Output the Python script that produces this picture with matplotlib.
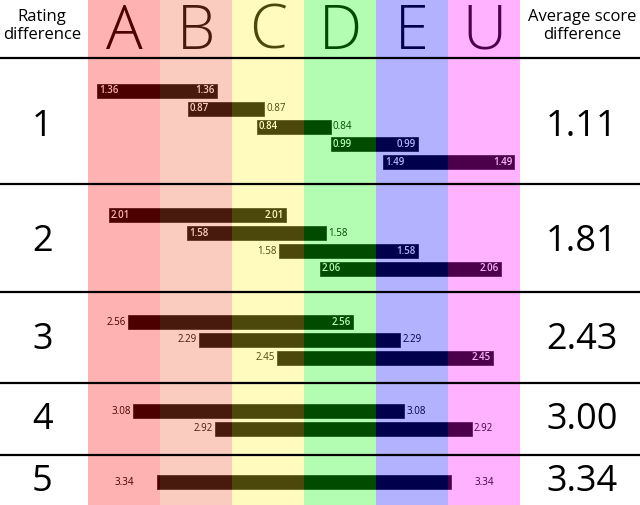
import matplotlib
matplotlib.use("Agg")
import matplotlib.pyplot as plt
from matplotlib.patches import Rectangle

plt.rcParams['font.family'] = ['Open Sans', 'DejaVu Sans']

# data
grades = ['A', 'B', 'C', 'D', 'E', 'U']
rating_diff = [1, 2, 3, 4, 5]
avg_score_diff = ['1.11', '1.81', '2.43', '3.00', '3.34']
# score difference of each grade pair, per rating difference
pair_scores = [
    [1.36, 0.87, 0.84, 0.99, 1.49],
    [2.01, 1.58, 1.58, 2.06],
    [2.56, 2.29, 2.45],
    [3.08, 2.92],
    [3.34],
]
# where each bar starts on the score axis
bar_starts = [
    [0.106, 1.133, 1.917, 2.758, 3.356],
    [0.239, 1.122, 2.167, 2.636],
    [0.451, 1.261, 2.148],
    [0.515, 1.443],
    [0.788],
]
# label placement (left, right): 'in' inside bar, 'out' beside it, 'far' at end column
label_modes = [
    [('in', 'in'), ('in', 'out'), ('in', 'out'), ('in', 'in'), ('in', 'in')],
    [('in', 'in'), ('in', 'out'), ('out', 'in'), ('in', 'in')],
    [('out', 'in'), ('out', 'out'), ('out', 'in')],
    [('out', 'out'), ('out', 'out')],
    [('far', 'far')],
]

tints = [(1.0, 0.0, 0.0), (0.94, 0.35, 0.18), (1.0, 0.94, 0.16),
         (0.0, 0.98, 0.0), (0.0, 0.0, 1.0), (1.0, 0.0, 1.0)]

# layout, in pixels
W, H = 640, 505
PX = 88.0            # pixels per score point
X0 = 88.0            # left edge of column A
COL = 72.0 / PX      # column width in score points
HEADER = 58.0
SLOT = 17.8
BAR_H = 14.0

fig = plt.figure(figsize=(W / 100, H / 100), dpi=100)
ax = fig.add_axes([0, 0, 1, 1])
ax.set_xlim(-X0 / PX, (W - X0) / PX)
ax.set_ylim(H, 0)
ax.axis('off')
pad = 2.0 / PX
left_mid = -X0 / PX / 2 - 0.02
right_mid = (6 * COL + (W - X0) / PX) / 2 + 0.02

top = HEADER
seps = [HEADER]
for r, vals in enumerate(pair_scores):
    n = len(vals)
    row_h = SLOT * n + 37
    mid = top + row_h / 2 + 1.5 * (n - 1) - 0.5
    ys = [mid + (i - (n - 1) / 2) * SLOT for i in range(n)]
    ax.barh(ys, vals, left=bar_starts[r], height=BAR_H, color='black',
            edgecolor='#222222', linewidth=0.6, zorder=2)
    for y, v, s, (lm, rm) in zip(ys, vals, bar_starts[r], label_modes[r]):
        txt = f'{v:.2f}'
        e = s + v
        if lm == 'in':
            ax.text(s + pad, y, txt, color='white', fontsize=7, weight='semibold',
                    ha='left', va='center', zorder=3)
        elif lm == 'out':
            ax.text(s - pad, y, txt, color='black', fontsize=7,
                    ha='right', va='center', zorder=3)
        else:
            ax.text(0.5 * COL, y, txt, color='black', fontsize=7,
                    ha='center', va='center', zorder=3)
        if rm == 'in':
            ax.text(e - pad, y, txt, color='white', fontsize=7, weight='semibold',
                    ha='right', va='center', zorder=3)
        elif rm == 'out':
            ax.text(e + pad, y, txt, color='black', fontsize=7,
                    ha='left', va='center', zorder=3)
        else:
            ax.text(5.5 * COL, y, txt, color='black', fontsize=7,
                    ha='center', va='center', zorder=3)
    ax.text(left_mid, mid, str(rating_diff[r]), fontsize=26,
            ha='center', va='center', zorder=12)
    ax.text(right_mid, mid, avg_score_diff[r], fontsize=26,
            ha='center', va='center', zorder=12)
    top += row_h
    seps.append(top)

# header
for i, g in enumerate(grades):
    ax.text((i + 0.5) * COL, 33, g, fontsize=44, weight='light', ha='center',
            va='center', color='black', zorder=3)
ax.text(left_mid, 26, 'Rating\ndifference', fontsize=12,
        ha='center', va='center', linespacing=1.1, zorder=12)
ax.text(right_mid, 26, 'Average score\ndifference',
        fontsize=12, ha='center', va='center', linespacing=1.1, zorder=12)

# coloured grade columns, laid over the bars and letters
for i, c in enumerate(tints):
    ax.add_patch(Rectangle((i * COL, 0), COL, H, facecolor=c, alpha=0.3,
                           linewidth=0, zorder=10))

for y in seps[:-1]:
    ax.axhline(y, color='black', linewidth=1.6, zorder=11)

fig.savefig('out.png', dpi=100)
